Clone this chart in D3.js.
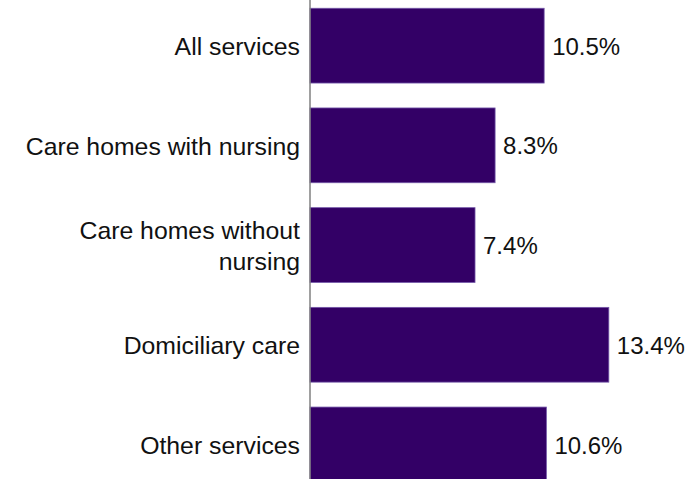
<!DOCTYPE html>
<html>
<head>
<meta charset="utf-8">
<script src="https://cdn.jsdelivr.net/npm/d3@7"></script>
<style>
  html, body { margin: 0; padding: 0; background: #fff; }
  svg { display: block; }
  text { font-family: "Liberation Sans", Arial, sans-serif; font-size: 24px; fill: #111; }
  text.cat { font-size: 24.8px; }
</style>
</head>
<body>
<svg id="chart" width="692" height="479"></svg>
<script>
// Share of staff by service type (percent)
const categories = [
  ["All services"],
  ["Care homes with nursing"],
  ["Care homes without", "nursing"],
  ["Domiciliary care"],
  ["Other services"]
];
const values = [10.5, 8.3, 7.4, 13.4, 10.6];
const valueLabels = ["10.5%", "8.3%", "7.4%", "13.4%", "10.6%"];

const width = 692, height = 479;
const axisX = 310;

const svg = d3.select("#chart");

const keys = categories.map(c => c.join(" "));

const y = d3.scaleBand()
  .domain(keys)
  .range([-4.2, 494.3])
  .paddingInner(0.25)
  .paddingOuter(0.125);

const x = d3.scaleLinear()
  .domain([0, 14])
  .range([axisX, axisX + 14 * 22.3]);

const rows = categories.map((c, i) => ({ key: keys[i], lines: c, value: values[i], label: valueLabels[i] }));

// bars
svg.append("g")
  .selectAll("rect")
  .data(rows)
  .join("rect")
  .attr("x", x(0))
  .attr("y", d => y(d.key))
  .attr("width", d => x(d.value) - x(0))
  .attr("height", y.bandwidth())
  .attr("fill", "#330066")
  .attr("stroke", "#7356a8")
  .attr("stroke-width", 0.8);

// value labels
svg.append("g")
  .selectAll("text")
  .data(rows)
  .join("text")
  .attr("x", d => x(d.value) + 8)
  .attr("y", d => y(d.key) + y.bandwidth() / 2)
  .attr("dy", "0.38em")
  .text(d => d.label);

// category labels
const catG = svg.append("g");
rows.forEach(d => {
  const cy = y(d.key) + y.bandwidth() / 2;
  const lh = 31;
  const t = catG.append("text")
    .attr("class", "cat")
    .attr("text-anchor", "end")
    .attr("x", axisX - 10)
    .attr("y", cy - (d.lines.length - 1) * lh / 2);
  d.lines.forEach((ln, j) => {
    t.append("tspan")
      .attr("x", axisX - 10)
      .attr("dy", j === 0 ? "0.38em" : lh)
      .text(ln);
  });
});

// vertical axis line
svg.append("line")
  .attr("x1", axisX).attr("x2", axisX)
  .attr("y1", 0).attr("y2", height)
  .attr("stroke", "#808080")
  .attr("stroke-width", 1.5);
</script>
</body>
</html>
